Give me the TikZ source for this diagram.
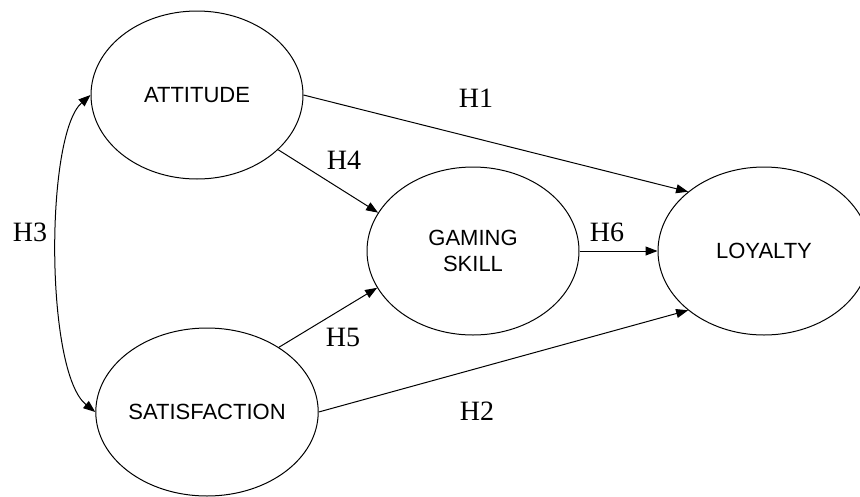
\documentclass[tikz,border=0pt]{standalone}
\usepackage{fontspec}
\setmainfont{Liberation Serif}
\newfontfamily\constructfont{Liberation Sans}
\usetikzlibrary{shapes.geometric, arrows.meta}
\usetikzlibrary{positioning}

\tikzset{
  construct/.style={ellipse, draw, line width=1pt, minimum width=212pt,
    minimum height=168pt, inner sep=0pt, align=center,
    font=\constructfont\fontsize{22}{26}\selectfont},
  hyp/.style={inner sep=0pt, font=\fontsize{28}{30}\selectfont},
  path/.style={line width=1pt, -{Triangle[length=12pt,width=9pt]}},
}

\begin{document}
\begin{tikzpicture}[x=1pt,y=-1pt]
        \useasboundingbox (0,0) rectangle (860,496);
        \clip (0,0) rectangle (860,496);
        % constructs
        \node[construct] (att) at (197,95) {ATTITUDE};
        \node[construct] (sat) at (207,412) {SATISFACTION};
        \node[construct] (gam) at (473,251) {GAMING\\SKILL};
        \node[construct] (loy) at (764,251) {LOYALTY};
        % hypotheses
        \node[hyp] (h1) at (476,98) {H1};
        \node[hyp] (h2) at (477,411) {H2};
        \node[hyp] (h3) at (30,232) {H3};
        \node[hyp] (h4) at (344,160) {H4};
        \node[hyp] (h5) at (343,337) {H5};
        \node[hyp] (h6) at (607,232) {H6};
        % paths
        \draw[path] (att.east) -- (loy.142);
        \draw[path] (att.326) -- (gam.158);
        \draw[path] (sat.42) -- (gam.201);
        \draw[path] (sat.east) -- (loy.218);
        \draw[path] (gam.east) -- (loy.west);
        \draw[path, {Triangle[length=12pt,width=9pt]}-{Triangle[length=12pt,width=9pt]}]
          (att.west) .. controls (45,135) and (45,372) .. (sat.west);
\end{tikzpicture}
\end{document}
